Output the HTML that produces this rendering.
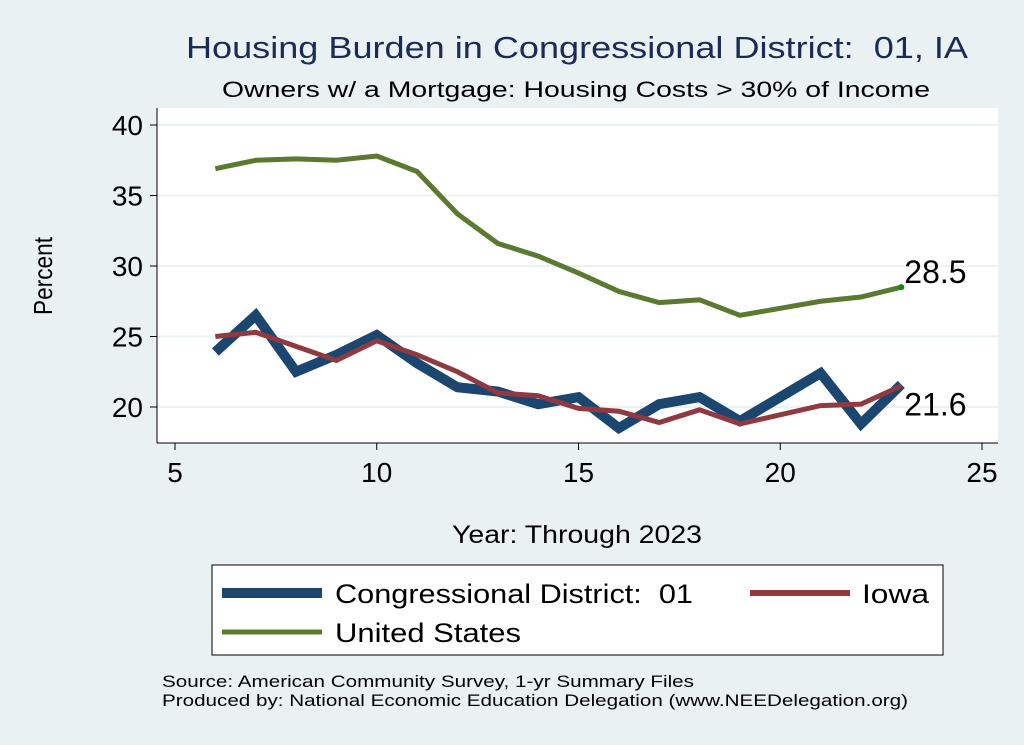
<!DOCTYPE html>
<html><head><meta charset="utf-8"><style>
body{margin:0;width:1024px;height:745px;background:#e9f1f3;overflow:hidden;font-family:"Liberation Sans",sans-serif}
svg{position:absolute;left:0;top:0}
text{white-space:pre}
</style></head><body>
<svg width="1024" height="745" xml:space="preserve">
<rect x="157" y="108" width="841" height="335" fill="#fff"/>
<g id="grid"></g>
<line x1="157" y1="108" x2="157" y2="443" stroke="#000" stroke-width="1"/>
<line x1="157" y1="443" x2="998" y2="443" stroke="#000" stroke-width="1"/>
<g id="axes"></g>
<g id="series"></g>
<text x="577" y="58" text-anchor="middle" font-size="31" fill="#1a2b55" textLength="782" lengthAdjust="spacingAndGlyphs">Housing Burden in Congressional District:  01, IA</text>
<text x="576" y="97" text-anchor="middle" font-size="22" fill="#000" textLength="708" lengthAdjust="spacingAndGlyphs">Owners w/ a Mortgage: Housing Costs &gt; 30% of Income</text>
<text x="52" y="276" text-anchor="middle" font-size="26" transform="rotate(-90 52 276)" textLength="78" lengthAdjust="spacingAndGlyphs">Percent</text>
<text x="577" y="543" text-anchor="middle" font-size="25" textLength="250" lengthAdjust="spacingAndGlyphs">Year: Through 2023</text>
<g>
<rect x="212" y="565" width="731" height="90" fill="#fff" stroke="#000" stroke-width="1"/>
<line x1="222" y1="593" x2="322" y2="593" stroke="#1a4670" stroke-width="10"/>
<text x="335" y="603" font-size="27" textLength="358" lengthAdjust="spacingAndGlyphs">Congressional District:  01</text>
<line x1="750" y1="593" x2="850" y2="593" stroke="#903a40" stroke-width="6"/>
<text x="862" y="603" font-size="27" textLength="67" lengthAdjust="spacingAndGlyphs">Iowa</text>
<line x1="222" y1="632" x2="322" y2="632" stroke="#5a7a30" stroke-width="5"/>
<text x="335" y="642" font-size="27" textLength="186" lengthAdjust="spacingAndGlyphs">United States</text>
</g>
<text x="162" y="687" font-size="17" textLength="532" lengthAdjust="spacingAndGlyphs">Source: American Community Survey, 1-yr Summary Files</text>
<text x="162" y="706" font-size="17" textLength="746" lengthAdjust="spacingAndGlyphs">Produced by: National Economic Education Delegation (www.NEEDelegation.org)</text>
</svg>
<script>
const years=[6,7,8,9,10,11,12,13,14,15,16,17,18,19,21,22,23];
const usVals=[36.9,37.5,37.6,37.5,37.8,36.7,33.7,31.6,30.7,29.5,28.2,27.4,27.6,26.5,27.5,27.8,28.5];
const cdVals=[23.9,26.5,22.5,23.7,25.1,23.1,21.4,21.1,20.2,20.7,18.5,20.2,20.7,19.0,22.4,18.8,21.6];
const iaVals=[25.0,25.3,24.3,23.3,24.7,23.7,22.5,21.0,20.8,19.9,19.7,18.9,19.8,18.8,20.1,20.2,21.5];
const xTicks=[5,10,15,20,25];
const yTicks=[20,25,30,35,40];
const NS="http://www.w3.org/2000/svg";
const X=v=>175+(v-5)*40.35;
const Y=v=>407-(v-20)*14.1;
function mk(t,a,p){const e=document.createElementNS(NS,t);for(const k in a)e.setAttribute(k,a[k]);p.appendChild(e);return e;}
const grid=document.getElementById('grid'),axes=document.getElementById('axes'),ser=document.getElementById('series');
yTicks.forEach(v=>{
 const g=mk('line',{x1:157,x2:998,y1:Y(v),y2:Y(v),stroke:'#eaf2f3','stroke-width':2},grid);
 
 
 mk('line',{x1:150,x2:157,y1:Y(v),y2:Y(v),stroke:'#000'},axes);
 const t=mk('text',{x:143,y:Y(v)+10,'text-anchor':'end','font-size':28},axes);t.textContent=v;
 
 
});
xTicks.forEach(v=>{
 mk('line',{x1:X(v),x2:X(v),y1:443,y2:450,stroke:'#000'},axes);
 const t=mk('text',{x:X(v),y:482,'text-anchor':'middle','font-size':28},axes);t.textContent=v;
 
 
});
function line(vals,color,w,name){
 const p=mk('polyline',{points:years.map((y,i)=>X(y)+','+Y(vals[i])).join(' '),fill:'none',stroke:color,'stroke-width':w,'stroke-linejoin':'miter'},ser);
 
 
}
line(usVals,'#5a7a30',5,'line-united-states');
line(cdVals,'#1a4670',10,'line-congressional-district');
line(iaVals,'#903a40',5,'line-iowa');
const n=years.length-1;
mk('circle',{cx:X(years[n]),cy:Y(usVals[n]),r:3,fill:'#0a8a0a'},ser);
const l1=mk('text',{x:X(years[n])+3,y:Y(usVals[n])-4,'font-size':32},ser);l1.textContent=usVals[n].toFixed(1);


const l2=mk('text',{x:X(years[n])+3,y:Y(cdVals[n])+31,'font-size':32},ser);l2.textContent=cdVals[n].toFixed(1);


</script>
</body></html>
